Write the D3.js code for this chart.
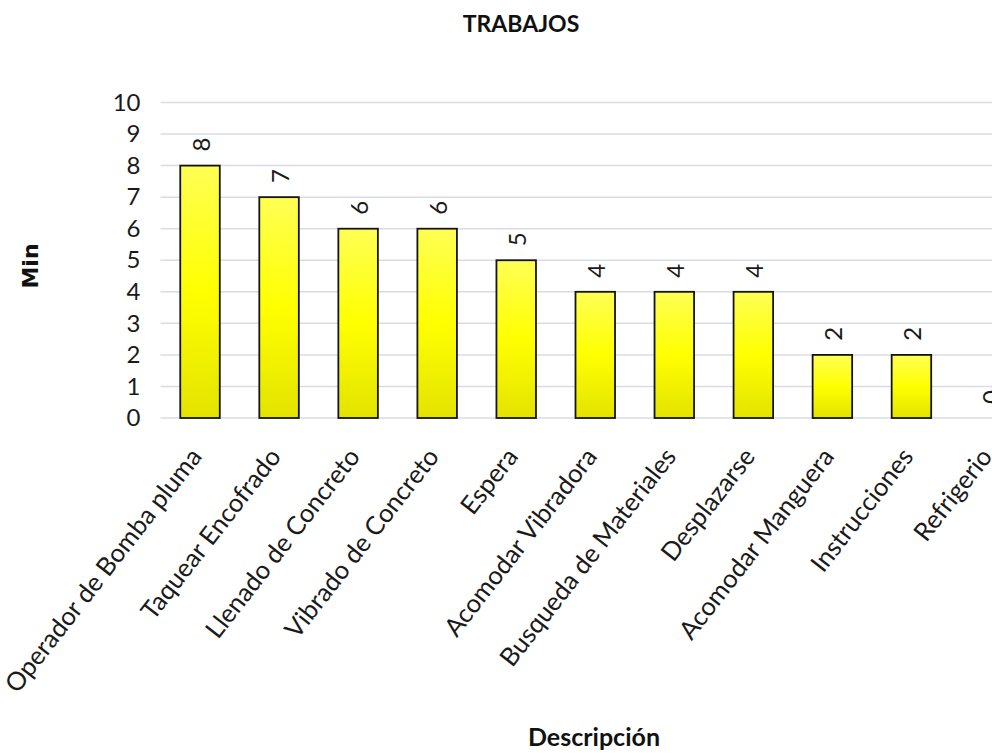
<!DOCTYPE html>
<html>
<head>
<meta charset="utf-8">
<script src="https://cdn.jsdelivr.net/npm/d3@7/dist/d3.min.js"></script>
<style>
  html, body { margin: 0; padding: 0; background: #ffffff; }
  svg { display: block; }
</style>
</head>
<body>
<script>
// Minutes spent on each activity
const categories = [
  "Operador de Bomba pluma", "Taquear Encofrado", "Llenado de Concreto",
  "Vibrado de Concreto", "Espera", "Acomodar Vibradora",
  "Busqueda de Materiales", "Desplazarse", "Acomodar Manguera",
  "Instrucciones", "Refrigerio"
];
const minutes = [8, 7, 6, 6, 5, 4, 4, 4, 2, 2, 0];
const yTicks = [0, 1, 2, 3, 4, 5, 6, 7, 8, 9, 10];

const W = 992, H = 753;
const font = "Lato, 'Noto Sans', 'DejaVu Sans', sans-serif";

const svg = d3.select("body").append("svg")
  .attr("width", W).attr("height", H);

const defs = svg.append("defs");
const grad = defs.append("linearGradient")
  .attr("id", "barFill").attr("x1", 0).attr("y1", 0).attr("x2", 0).attr("y2", 1);
grad.append("stop").attr("offset", "0%").attr("stop-color", "#ffff55");
grad.append("stop").attr("offset", "50%").attr("stop-color", "#ffff00");
grad.append("stop").attr("offset", "100%").attr("stop-color", "#e3e300");

const plotLeft = 160.5, plotRight = 1030;
const x = d3.scaleBand()
  .domain(categories)
  .range([plotLeft, plotRight])
  .paddingInner(0.5)
  .paddingOuter(0.25);

const y = d3.scaleLinear().domain([0, 10]).range([418, 102.5]);

// horizontal gridlines
svg.append("g").selectAll("line")
  .data(yTicks)
  .join("line")
  .attr("x1", plotLeft).attr("x2", plotRight)
  .attr("y1", d => y(d)).attr("y2", d => y(d))
  .attr("stroke", "#d9dce6").attr("stroke-width", 1.5);

// y axis (labels only)
const yAxis = svg.append("g")
  .attr("transform", `translate(${plotLeft - 12},0)`)
  .call(d3.axisLeft(y).tickValues(yTicks).tickSize(0).tickPadding(8).tickFormat(d3.format("d")));
yAxis.select(".domain").remove();
yAxis.selectAll("text")
  .attr("font-family", font).attr("font-size", 24).attr("fill", "#1a1a1a");

// bars
svg.append("g").selectAll("rect")
  .data(categories)
  .join("rect")
  .attr("x", d => x(d))
  .attr("width", x.bandwidth())
  .attr("y", (d, i) => y(minutes[i]))
  .attr("height", (d, i) => y(0) - y(minutes[i]))
  .attr("fill", "url(#barFill)")
  .attr("stroke", "#141414")
  .attr("stroke-width", 1.8)
  .style("display", (d, i) => minutes[i] > 0 ? null : "none");

// value labels, rotated
svg.append("g").selectAll("text")
  .data(categories)
  .join("text")
  .attr("transform", (d, i) =>
    `translate(${x(d) + x.bandwidth() / 2},${y(minutes[i]) - 21}) rotate(-90)`)
  .attr("text-anchor", "middle")
  .attr("dominant-baseline", "central")
  .attr("font-family", font).attr("font-size", 24).attr("fill", "#1a1a1a")
  .text((d, i) => minutes[i]);

// category labels
svg.append("g").selectAll("text")
  .data(categories)
  .join("text")
  .attr("transform", d =>
    `translate(${x(d) + x.bandwidth() / 2 + 3},457) rotate(-52)`)
  .attr("text-anchor", "end")
  .attr("font-family", font).attr("font-size", 25.5).attr("fill", "#1a1a1a")
  .text(d => d);

// title
svg.append("text")
  .attr("x", 521).attr("y", 32)
  .attr("text-anchor", "middle")
  .attr("font-family", font).attr("font-weight", "bold").attr("font-size", 23)
  .attr("fill", "#111")
  .text("TRABAJOS");

// axis titles
svg.append("text")
  .attr("x", 594).attr("y", 746)
  .attr("text-anchor", "middle")
  .attr("font-family", font).attr("font-weight", "bold").attr("font-size", 25)
  .attr("fill", "#111")
  .text("Descripción");

svg.append("text")
  .attr("transform", "translate(30,266) rotate(-90)")
  .attr("text-anchor", "middle")
  .attr("dominant-baseline", "central")
  .attr("font-family", "'DejaVu Sans', sans-serif").attr("font-weight", "bold").attr("font-size", 22)
  .attr("fill", "#111")
  .text("Min");
</script>
</body>
</html>
